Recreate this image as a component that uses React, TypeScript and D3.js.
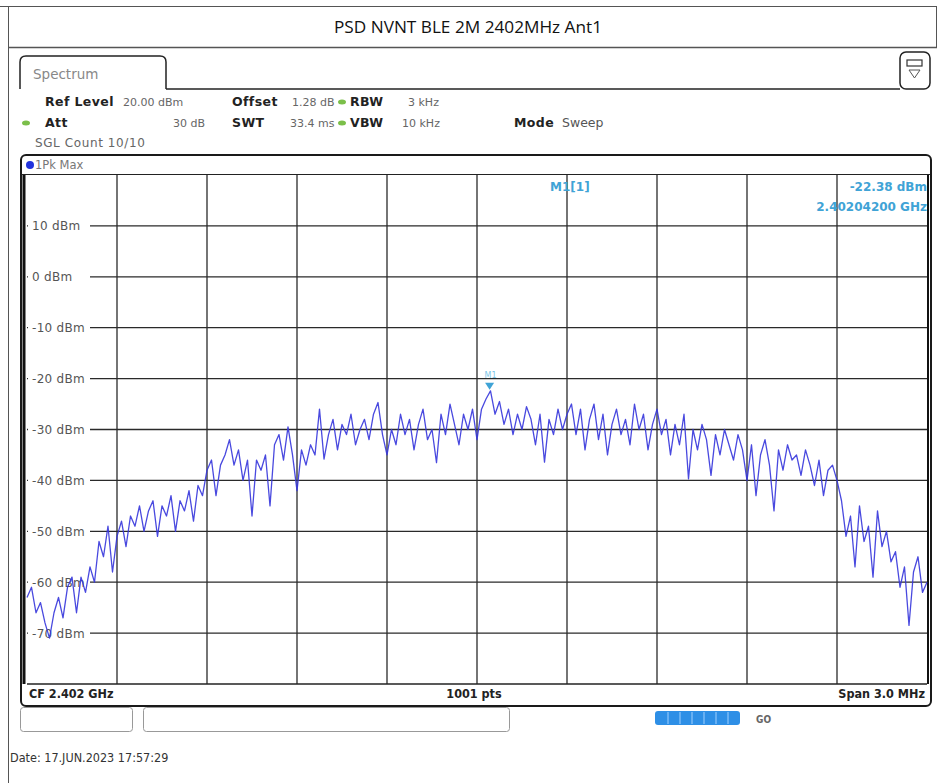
import React from "react";
import * as d3 from "d3";

const title = "PSD NVNT BLE 2M 2402MHz Ant1";
const yTickValues = [10, 0, -10, -20, -30, -40, -50, -60, -70];
const yTickLabels = yTickValues.map((v) => `${v} dBm`);
const gridDivisions = [1, 2, 3, 4, 5, 6, 7, 8, 9];
const centerFreqGHz = 2.402;
const spanGHz = 0.003;
const markerFreqGHz = 2.402042;
const markerLevel = -22.38;

// Trace values (dBm), read across the sweep from left to right
const traceDbm = [
  -63, -61, -66, -64, -68, -71, -66, -63, -67, -61, -59, -66, -59, -62, -57, -60, -52, -55, -49, -58,
  -51, -48, -53, -47, -49, -45, -50, -46, -44, -51, -45, -47, -43, -50, -44, -46, -42, -48, -41, -43,
  -38, -36, -43, -37, -35, -32, -37, -34, -40, -36, -47, -36, -38, -35, -45, -33, -31, -36, -29.5, -35,
  -42, -34, -37, -33, -35, -26, -35.8, -31, -28, -34, -29, -31, -27, -33, -30, -28, -32, -27, -24.7, -31,
  -35, -30, -33, -27, -31, -28, -34, -29, -26, -32, -30, -36.5, -27, -31, -25, -29, -33, -27, -30, -26,
  -32, -26, -24, -22.4, -27, -24.5, -29, -26, -31, -27, -30, -25.5, -28, -33, -27, -36.4, -28, -31, -26, -30,
  -27, -25, -31, -26, -34, -28, -25, -32, -27, -35, -29, -26, -31, -28, -33, -25, -30, -27, -34, -29,
  -26, -31, -28, -35, -29, -33, -27, -39.7, -30, -34, -29, -32, -39, -31, -35, -30, -33, -36, -31, -34,
  -40, -33, -43, -35, -32, -37, -46, -34, -38, -33, -36, -35, -39, -34, -37, -41, -36, -43, -38, -37,
  -40, -44, -51, -47, -57, -45, -52, -49, -59, -46, -53, -50, -56, -54, -61, -57, -68.5, -58, -55, -62, -60,
];

const infoFont = "'DejaVu Sans', Verdana, sans-serif";
const condFont = "'DejaVu Sans Condensed', 'DejaVu Sans', sans-serif";

export default function App() {
  const W = 937;
  const H = 783;
  const px0 = 27, px1 = 927, py0 = 175, py1 = 684;

  const fx = d3
    .scaleLinear()
    .domain([centerFreqGHz - spanGHz / 2, centerFreqGHz + spanGHz / 2])
    .range([px0, px1]);
  const y = d3.scaleLinear().domain([-80, 20]).range([py1, py0]);
  const n = traceDbm.length;
  const freqOf = (i: number) => centerFreqGHz - spanGHz / 2 + (i * spanGHz) / (n - 1);

  const line = d3
    .line<number>()
    .x((_, i) => fx(freqOf(i)))
    .y((d) => y(d));

  const gx = d3.scaleLinear().domain([0, 10]).range([px0, px1]);
  const mx = fx(markerFreqGHz);
  const my = y(markerLevel);

  const gridColor = "#2a2a2a";
  const cyan = "#3fa3d6";

  return (
    <svg width={W} height={H} style={{ display: "block", position: "absolute", left: 0, top: 0, background: "#fff" }}>
      <rect x={0} y={0} width={W} height={H} fill="#fff" />
      {/* outer table frame */}
      <line x1={0} x2={W} y1={6.5} y2={6.5} stroke="#555" strokeWidth={1} />
      <line x1={8.5} x2={8.5} y1={6} y2={H} stroke="#555" strokeWidth={1} />
      <line x1={936.5} x2={936.5} y1={6} y2={47} stroke="#555" strokeWidth={1} />
      <line x1={8} x2={W} y1={47.5} y2={47.5} stroke="#555" strokeWidth={1.5} />
      <text x={468} y={33} textAnchor="middle" fontFamily="'Open Sans', 'Liberation Sans', sans-serif" fontSize={16} textLength={268} lengthAdjust="spacingAndGlyphs" fill="#111">
        {title}
      </text>

      {/* Spectrum tab */}
      <path d="M20,89 L20,62 Q20,56 26,56 L160,56 Q166,56 166,62 L166,89" fill="none" stroke="#222" strokeWidth={1.5} />
      <line x1={166} x2={900} y1={89} y2={89} stroke="#222" strokeWidth={1.5} />
      <text x={33} y={79} fontFamily={infoFont} fontSize={13.5} fill="#888">Spectrum</text>
      {/* icon box */}
      <rect x={900} y={52} width={30} height={37} rx={6} fill="#fff" stroke="#222" strokeWidth={1.5} />
      <rect x={907} y={60} width={15} height={6} fill="#fff" stroke="#333" strokeWidth={1.2} />
      <path d="M909,70 L920,70 L914.5,78 Z" fill="none" stroke="#555" strokeWidth={1} />

      {/* info rows */}
      <g fontFamily={infoFont} fontSize={11} fill="#333">
        <g fontWeight="bold" fill="#222" fontSize={12.5} letterSpacing={0.4}>
          <text x={45} y={106}>Ref Level</text>
          <text x={232} y={106}>Offset</text>
          <text x={350} y={106}>RBW</text>
          <text x={45} y={127}>Att</text>
          <text x={232} y={127}>SWT</text>
          <text x={350} y={127}>VBW</text>
          <text x={514} y={127}>Mode</text>
        </g>
        <text x={123} y={106} fill="#666">20.00 dBm</text>
        <text x={292} y={106} fill="#666">1.28 dB</text>
        <text x={408} y={106} fill="#666">3 kHz</text>
        <text x={205} y={127} textAnchor="end" fill="#666">30 dB</text>
        <text x={290} y={127} fill="#666">33.4 ms</text>
        <text x={402} y={127} fill="#666">10 kHz</text>
        <text x={562} y={127} fill="#555" fontSize={12.5}>Sweep</text>
        <text x={35} y={147} fill="#666" fontSize={12} letterSpacing={0.6}>SGL Count 10/10</text>
      </g>
      <ellipse cx={342} cy={102} rx={4} ry={2.5} fill="#7bbf4a" />
      <ellipse cx={342} cy={123} rx={4} ry={2.5} fill="#7bbf4a" />
      <ellipse cx={26} cy={123} rx={4} ry={2.5} fill="#7bbf4a" />

      {/* diagram frame */}
      <rect x={21} y={155} width={910} height={551} rx={5} fill="#fff" stroke="#1a1a1a" strokeWidth={2} />
      <circle cx={30} cy={165} r={4} fill="#2233dd" />
      <text x={35} y={169} fontFamily={infoFont} fontSize={11.5} fill="#777">1Pk Max</text>
      <line x1={22} x2={930} y1={py0 - 0.5} y2={py0 - 0.5} stroke="#222" strokeWidth={1.2} />

      {/* grid */}
      {gridDivisions.map((d) => (
        <line key={"v" + d} x1={gx(d)} x2={gx(d)} y1={py0} y2={py1} stroke={gridColor} strokeWidth={1.3} />
      ))}
      <line x1={px0 - 3} x2={px0 - 3} y1={py0} y2={py1} stroke="#111" strokeWidth={3} />
      <line x1={px1 + 1} x2={px1 + 1} y1={py0} y2={py1} stroke="#111" strokeWidth={2} />
      {yTickValues.map((v) => (
        <line key={"h" + v} x1={px0} x2={px1} y1={y(v)} y2={y(v)} stroke={gridColor} strokeWidth={1.3} />
      ))}
      {yTickValues.map((v, i) => (
        <g key={"l" + v}>
          <rect x={px0 + 1} y={y(v) - 7} width={62} height={14} fill="#fff" />
          <text x={px0 + 5} y={y(v) + 4.5} fontFamily={infoFont} fontSize={12} letterSpacing={0.3} fill="#555">
            {yTickLabels[i]}
          </text>
        </g>
      ))}
      <line x1={px0} x2={px1} y1={py1} y2={py1} stroke="#222" strokeWidth={1.5} />

      {/* marker readout */}
      <g fontFamily={infoFont} fontSize={12} fill={cyan} fontWeight="bold">
        <text x={550} y={191}>M1[1]</text>
        <text x={927} y={191} textAnchor="end">-22.38 dBm</text>
        <text x={927} y={211} textAnchor="end">2.40204200 GHz</text>
      </g>

      {/* trace */}
      <path d={line(traceDbm) || ""} fill="none" stroke="#3535dc" strokeWidth={1.3} strokeOpacity={0.9} strokeLinejoin="round" />

      {/* marker */}
      <path d={`M${mx - 4.5},${my - 8} L${mx + 4.5},${my - 8} L${mx},${my - 1} Z`} fill={cyan} />
      <text x={mx - 5} y={my - 13} fontFamily={infoFont} fontSize={8} fill="#7cc6e8">M1</text>

      {/* bottom bar */}
      <g fontFamily={condFont} fontSize={12.5} fontWeight="bold" fill="#222">
        <text x={29} y={698}>CF 2.402 GHz</text>
        <text x={474} y={698} textAnchor="middle">1001 pts</text>
        <text x={925} y={698} textAnchor="end">Span 3.0 MHz</text>
      </g>

      {/* lower status boxes */}
      <rect x={20.5} y={707.5} width={112} height={24} rx={3} fill="#fff" stroke="#999" />
      <rect x={143.5} y={707.5} width={366} height={24} rx={3} fill="#fff" stroke="#999" />
      <rect x={655} y={711} width={85} height={14} rx={3} fill="#2e8fe6" />
      {[668, 680, 692, 704, 716, 728].map((xx) => (
        <line key={xx} x1={xx} x2={xx} y1={712} y2={724} stroke="#9fd0ff" strokeWidth={1} />
      ))}
      <text x={756} y={723} fontFamily={condFont} fontSize={10} fontWeight="bold" fill="#666">GO</text>

      <text x={10} y={762} fontFamily={condFont} fontSize={12.5} fill="#333">Date: 17.JUN.2023  17:57:29</text>
    </svg>
  );
}
